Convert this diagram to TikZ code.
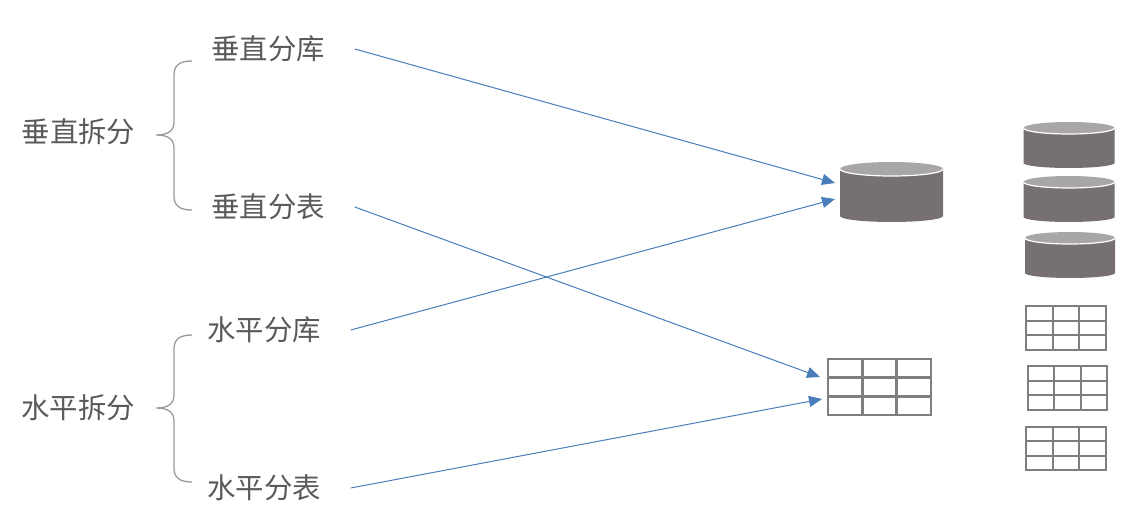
\documentclass[tikz,border=0pt]{standalone}
\usepackage{fontspec}
\usepackage{tikz,pgfmath}
\usetikzlibrary{arrows.meta}
\newfontfamily\cjk{Noto Sans CJK SC}
\definecolor{txtgray}{HTML}{5A5A5A}
\definecolor{bracegray}{HTML}{9A9A9A}
\definecolor{gridgray}{HTML}{7F7F7F}
\definecolor{dbbody}{HTML}{767074}
\definecolor{dbtop}{HTML}{A9A6A8}
\definecolor{arrowblue}{HTML}{4A7EBB}
\tikzset{
  lbl/.style={font=\cjk\fontsize{28.4}{28.4}\selectfont,text=txtgray,inner xsep=30pt,inner ysep=0pt,outer sep=0pt},
  link/.style={arrowblue,line width=1pt,-{Triangle[length=13pt,width=11pt]}},
  brace/.style={bracegray,line width=1.3pt},
}
\begin{document}
\begin{tikzpicture}[x=1pt,y=-1pt]
  \useasboundingbox (0,0) rectangle (1130,527);
  \fill[white] (0,0) rectangle (1130,527);
  % labels
  \node[lbl] (vsplit) at (78.5,132) {垂直拆分};
  \node[lbl] (hsplit) at (78,408) {水平拆分};
  \node[lbl] (vdb) at (268,49) {垂直分库};
  \node[lbl] (vtb) at (268,207) {垂直分表};
  \node[lbl] (hdb) at (264,330) {水平分库};
  \node[lbl] (htb) at (264,488) {水平分表};
  % braces
  \foreach \ya/\ym/\yb in {61/135/210, 335/408/482} {
    \draw[brace] (192,\ya) .. controls (180,\ya) and (174,\ya+4) .. (174,\ya+14)
      -- (174,\ym-13) .. controls (174,\ym-4) and (168,\ym) .. (156,\ym)
      .. controls (168,\ym) and (174,\ym+4) .. (174,\ym+13)
      -- (174,\yb-14) .. controls (174,\yb-4) and (180,\yb) .. (192,\yb);
  }
  % disks: left, right, top of ellipse, bottom of side
  \foreach \l/\r/\t/\b/\ry in {840/943/169/216/7, 1023.5/1114.5/128/163/6, 1023.5/1114.5/182/217/6, 1025/1115/238/273/6} {
    \fill[dbbody] (\l,\t) -- (\l,\b) arc[start angle=180,end angle=0,x radius=(\r-\l)/2,y radius=\ry-1]
      -- (\r,\t) -- cycle;
    \fill[dbtop] (\l,\t) arc[start angle=180,end angle=-180,x radius=(\r-\l)/2,y radius=\ry];
    \draw[white,line width=1.2pt] (\l,\t) arc[start angle=180,end angle=0,x radius=(\r-\l)/2,y radius=\ry];
  }
  % tables
  \foreach \l/\r/\t/\b/\w in {828/931/359/415/2.8, 1026/1106/306/350/2.2, 1028/1107/366/410/2.2, 1026/1106/427/470/2.2} {
    \draw[gridgray,line width=\w pt] (\l,\t) rectangle (\r,\b);
    \foreach \k in {1,2} {
      \draw[gridgray,line width=\w pt] ({\l+(\r-\l)*\k/3},\t) -- ({\l+(\r-\l)*\k/3},\b);
      \draw[gridgray,line width=\w pt] (\l,{\t+(\b-\t)*\k/3}) -- (\r,{\t+(\b-\t)*\k/3});
    }
  }
  % arrows
  \coordinate (dbina) at (835,183);
  \coordinate (dbinb) at (835,199);
  \coordinate (tbina) at (820,377);
  \coordinate (tbinb) at (822,399);
  \draw[link] (vdb.east) -- (dbina);
  \draw[link] (vtb.east) -- (tbina);
  \draw[link] (hdb.east) -- (dbinb);
  \draw[link] (htb.east) -- (tbinb);
\end{tikzpicture}
\end{document}
